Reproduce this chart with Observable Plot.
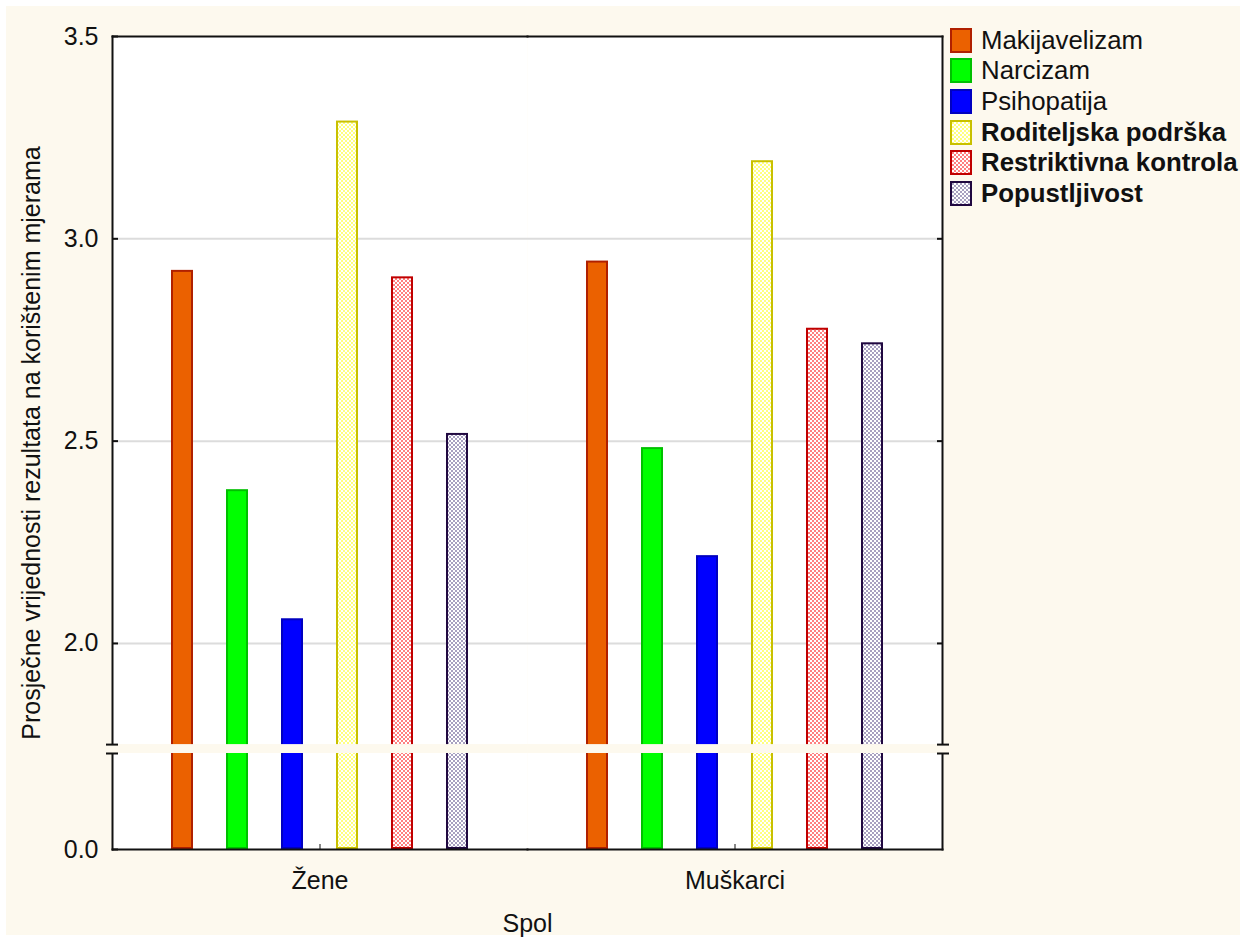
<!DOCTYPE html>
<html>
<head>
<meta charset="utf-8">
<script src="https://cdn.jsdelivr.net/npm/d3@7"></script>
<script src="https://cdn.jsdelivr.net/npm/@observablehq/plot@0.6"></script>
<style>
  html, body { margin: 0; padding: 0; background: #ffffff; }
  #page { position: absolute; left: 6px; top: 6px; width: 1234px; height: 929px; background: #FDF9EE; }
  #chart { position: absolute; left: 0; top: 0; }
  #legend { position: absolute; left: 950px; top: 25px; font-family: Arial, "Liberation Sans", sans-serif; font-size: 25.8px; color: #111; }
  .row { display: flex; align-items: center; height: 30.6px; }
  .row svg { flex: none; margin-right: 9px; }
  .bold { font-weight: bold; }
</style>
</head>
<body>
<svg width="0" height="0" style="position:absolute">
  <defs>
    <pattern id="patYellow" width="4" height="4" patternUnits="userSpaceOnUse">
      <rect width="4" height="4" fill="#ffffff"/>
      <rect width="2" height="2" fill="#FFFF80"/>
      <rect x="2" y="2" width="2" height="2" fill="#FFFF80"/>
    </pattern>
    <pattern id="patRed" width="4" height="4" patternUnits="userSpaceOnUse">
      <rect width="4" height="4" fill="#ffffff"/>
      <rect width="2" height="2" fill="#FF8080"/>
      <rect x="2" y="2" width="2" height="2" fill="#FF8080"/>
    </pattern>
    <pattern id="patGray" width="4" height="4" patternUnits="userSpaceOnUse">
      <rect width="4" height="4" fill="#ffffff"/>
      <rect width="2" height="2" fill="#A8A0C0"/>
      <rect x="2" y="2" width="2" height="2" fill="#A8A0C0"/>
    </pattern>
  </defs>
</svg>
<div id="page"></div>
<div id="chart"></div>
<div id="legend"></div>
<script>
// ---- data ----
const spol = ["Žene", "Muškarci"];
const mjere = ["Makijavelizam", "Narcizam", "Psihopatija", "Roditeljska podrška", "Restriktivna kontrola", "Popustljivost"];
const zene = [2.922, 2.38, 2.061, 3.291, 2.906, 2.519];
const muskarci = [2.945, 2.484, 2.217, 3.193, 2.779, 2.743];
const yTicks = [0, 2, 2.5, 3, 3.5];
const yLabel = "Prosječne vrijednosti rezultata na korištenim mjerama";
const xLabel = "Spol";

// ---- styles ----
const fills = ["#EB6100", "#00FF00", "#0000FF", "url(#patYellow)", "url(#patRed)", "url(#patGray)"];
const strokes = ["#B02000", "#00C000", "#0000C0", "#C8C000", "#C00000", "#200840"];
const boldSeries = [false, false, false, true, true, true];
const cream = "#FDF9EE";
const breakLow = 1.728, breakHigh = 1.75;

const series = [zene, muskarci];
const data = spol.flatMap((s, i) => mjere.map((m, j) => ({spol: s, mjera: m, value: series[i][j]})));
const strokeOf = new Map(mjere.map((m, j) => [m, strokes[j]]));

const chart = Plot.plot({
  width: 945,
  height: 939,
  marginLeft: 111,
  marginRight: 3,
  marginTop: 36,
  marginBottom: 90,
  style: {background: "transparent", fontFamily: "Arial, 'Liberation Sans', sans-serif", fontSize: "25px", color: "#111", overflow: "visible"},
  fx: {domain: spol, padding: 0},
  x: {type: "band", domain: mjere, paddingInner: 0.6, paddingOuter: 1.05, axis: null},
  y: {type: "linear", domain: [0, breakLow, 3.5], range: [849, 753, 36]},
  color: {domain: mjere, range: fills},
  marks: [
    Plot.frame({fill: "#ffffff", stroke: null}),
    Plot.ruleY([2, 2.5, 3], {stroke: "#dcdcdc", strokeWidth: 2}),
    Plot.barY(data, {fx: "spol", x: "mjera", y: "value", fill: "mjera", stroke: d => strokeOf.get(d.mjera), strokeWidth: 2, inset: 1}),
    Plot.frame({anchor: "top", stroke: "#111", strokeWidth: 2}),
    Plot.frame({anchor: "bottom", stroke: "#111", strokeWidth: 2}),
    Plot.frame({anchor: "left", facetAnchor: "left", stroke: "#111", strokeWidth: 2}),
    Plot.frame({anchor: "right", facetAnchor: "right", stroke: "#111", strokeWidth: 2}),
    Plot.rect([0], {y1: breakLow, y2: breakHigh, fill: cream, insetLeft: -3, insetRight: -3}),
    Plot.axisY({anchor: "left", ticks: yTicks, tickFormat: ".1f", tickSize: -6, tickPadding: 20, strokeWidth: 2,
      label: yLabel, labelAnchor: "center", labelOffset: 90, labelArrow: "none"}),
    Plot.axisY({anchor: "right", ticks: [2, 2.5, 3], tickFormat: () => "", tickSize: -6, strokeWidth: 2, label: null}),
    Plot.axisY({anchor: "left", ticks: [breakLow, breakHigh], tickFormat: () => "", tickSize: 6, strokeWidth: 2, label: null}),
    Plot.axisY({anchor: "left", ticks: [breakLow, breakHigh], tickFormat: () => "", tickSize: -6, strokeWidth: 2, label: null}),
    Plot.axisY({anchor: "right", ticks: [breakLow, breakHigh], tickFormat: () => "", tickSize: 6, strokeWidth: 2, label: null}),
    Plot.axisY({anchor: "right", ticks: [breakLow, breakHigh], tickFormat: () => "", tickSize: -6, strokeWidth: 2, label: null}),
    Plot.axisFx({anchor: "bottom", tickSize: -5, tickPadding: 27, label: xLabel, labelAnchor: "center", labelOffset: 82, labelArrow: "none"})
  ]
});
document.getElementById("chart").appendChild(chart);

// ---- legend ----
const legend = document.getElementById("legend");
mjere.forEach((m, j) => {
  const row = document.createElement("div");
  row.className = "row";
  row.innerHTML = `<svg width="22" height="25"><rect x="1" y="1" width="20" height="23" fill="${fills[j]}" stroke="${strokes[j]}" stroke-width="2"/></svg><span class="${boldSeries[j] ? "bold" : ""}">${m}</span>`;
  legend.appendChild(row);
});
</script>
</body>
</html>
